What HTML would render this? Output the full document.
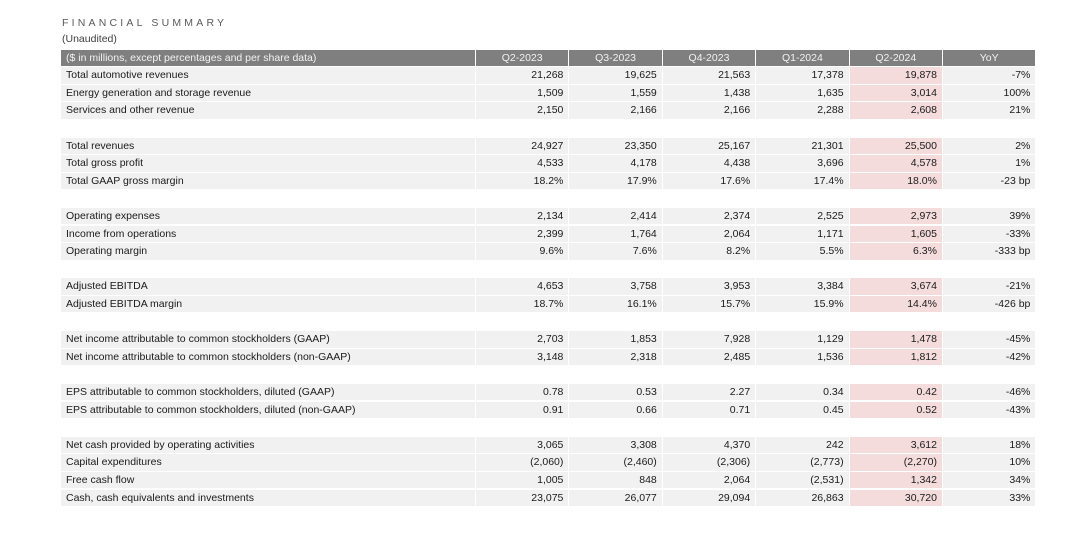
<!DOCTYPE html>
<html><head><meta charset="utf-8">
<style>
body{margin:0;width:1080px;height:541px;background:#fff;position:relative;overflow:hidden;font-family:"Liberation Sans",Arial,sans-serif;}
#title{position:absolute;left:62px;top:17px;font-size:10.5px;letter-spacing:3.2px;color:#595959;}
#sub{position:absolute;left:62px;top:33px;font-size:10.5px;color:#404040;}
.cell{position:absolute;height:16.6px;line-height:16.6px;font-size:10.5px;color:#1a1a1a;box-sizing:border-box;white-space:nowrap;overflow:hidden;}
.hdr{background:#7f7f7f;color:#f2f2f2;}
.row{background:#f1f1f1;}
.hl{background:#f5dcdc;}
</style></head><body>
<div id="title">FINANCIAL SUMMARY</div>
<div id="sub">(Unaudited)</div>
<div id="tbl"></div>
<script>
const periods=["Q2-2023","Q3-2023","Q4-2023","Q1-2024","Q2-2024","YoY"];
const rows=[
["Total automotive revenues","21,268","19,625","21,563","17,378","19,878","-7%"],
["Energy generation and storage revenue","1,509","1,559","1,438","1,635","3,014","100%"],
["Services and other revenue","2,150","2,166","2,166","2,288","2,608","21%"],
null,
["Total revenues","24,927","23,350","25,167","21,301","25,500","2%"],
["Total gross profit","4,533","4,178","4,438","3,696","4,578","1%"],
["Total GAAP gross margin","18.2%","17.9%","17.6%","17.4%","18.0%","-23 bp"],
null,
["Operating expenses","2,134","2,414","2,374","2,525","2,973","39%"],
["Income from operations","2,399","1,764","2,064","1,171","1,605","-33%"],
["Operating margin","9.6%","7.6%","8.2%","5.5%","6.3%","-333 bp"],
null,
["Adjusted EBITDA","4,653","3,758","3,953","3,384","3,674","-21%"],
["Adjusted EBITDA margin","18.7%","16.1%","15.7%","15.9%","14.4%","-426 bp"],
null,
["Net income attributable to common stockholders (GAAP)","2,703","1,853","7,928","1,129","1,478","-45%"],
["Net income attributable to common stockholders (non-GAAP)","3,148","2,318","2,485","1,536","1,812","-42%"],
null,
["EPS attributable to common stockholders, diluted (GAAP)","0.78","0.53","2.27","0.34","0.42","-46%"],
["EPS attributable to common stockholders, diluted (non-GAAP)","0.91","0.66","0.71","0.45","0.52","-43%"],
null,
["Net cash provided by operating activities","3,065","3,308","4,370","242","3,612","18%"],
["Capital expenditures","(2,060)","(2,460)","(2,306)","(2,773)","(2,270)","10%"],
["Free cash flow","1,005","848","2,064","(2,531)","1,342","34%"],
["Cash, cash equivalents and investments","23,075","26,077","29,094","26,863","30,720","33%"]
];
const tbl=document.getElementById('tbl');
const L=61,LW=415,CW=93.4,TOP=49.5,RH=17.6;
function cell(x,y,w,txt,cls,align,name){
  const d=document.createElement('div');
  d.className='cell '+cls;
  d.style.left=x+'px';d.style.top=y+'px';d.style.width=(w-1)+'px';
  d.style.textAlign=align;
  d.style.padding=align==='right'?'0 5px 0 0':(align==='left'?'0 0 0 5px':'0');
  d.textContent=txt;
  
  
  tbl.appendChild(d);
}
cell(L,TOP,LW,"($ in millions, except percentages and per share data)","hdr","left","header-label");
periods.forEach((p,i)=>cell(L+LW+i*CW,TOP,CW,p,"hdr","center","header-"+p.toLowerCase()));
rows.forEach((r,k)=>{
  if(!r)return;
  const y=TOP+RH*(k+1);
  cell(L,y,LW,r[0],"row","left","row-label");
  for(let i=1;i<r.length;i++){
    cell(L+LW+(i-1)*CW,y,CW,r[i],i===5?"hl":"row","right","value-"+periods[i-1].toLowerCase());
  }
});
</script>
</body></html>
